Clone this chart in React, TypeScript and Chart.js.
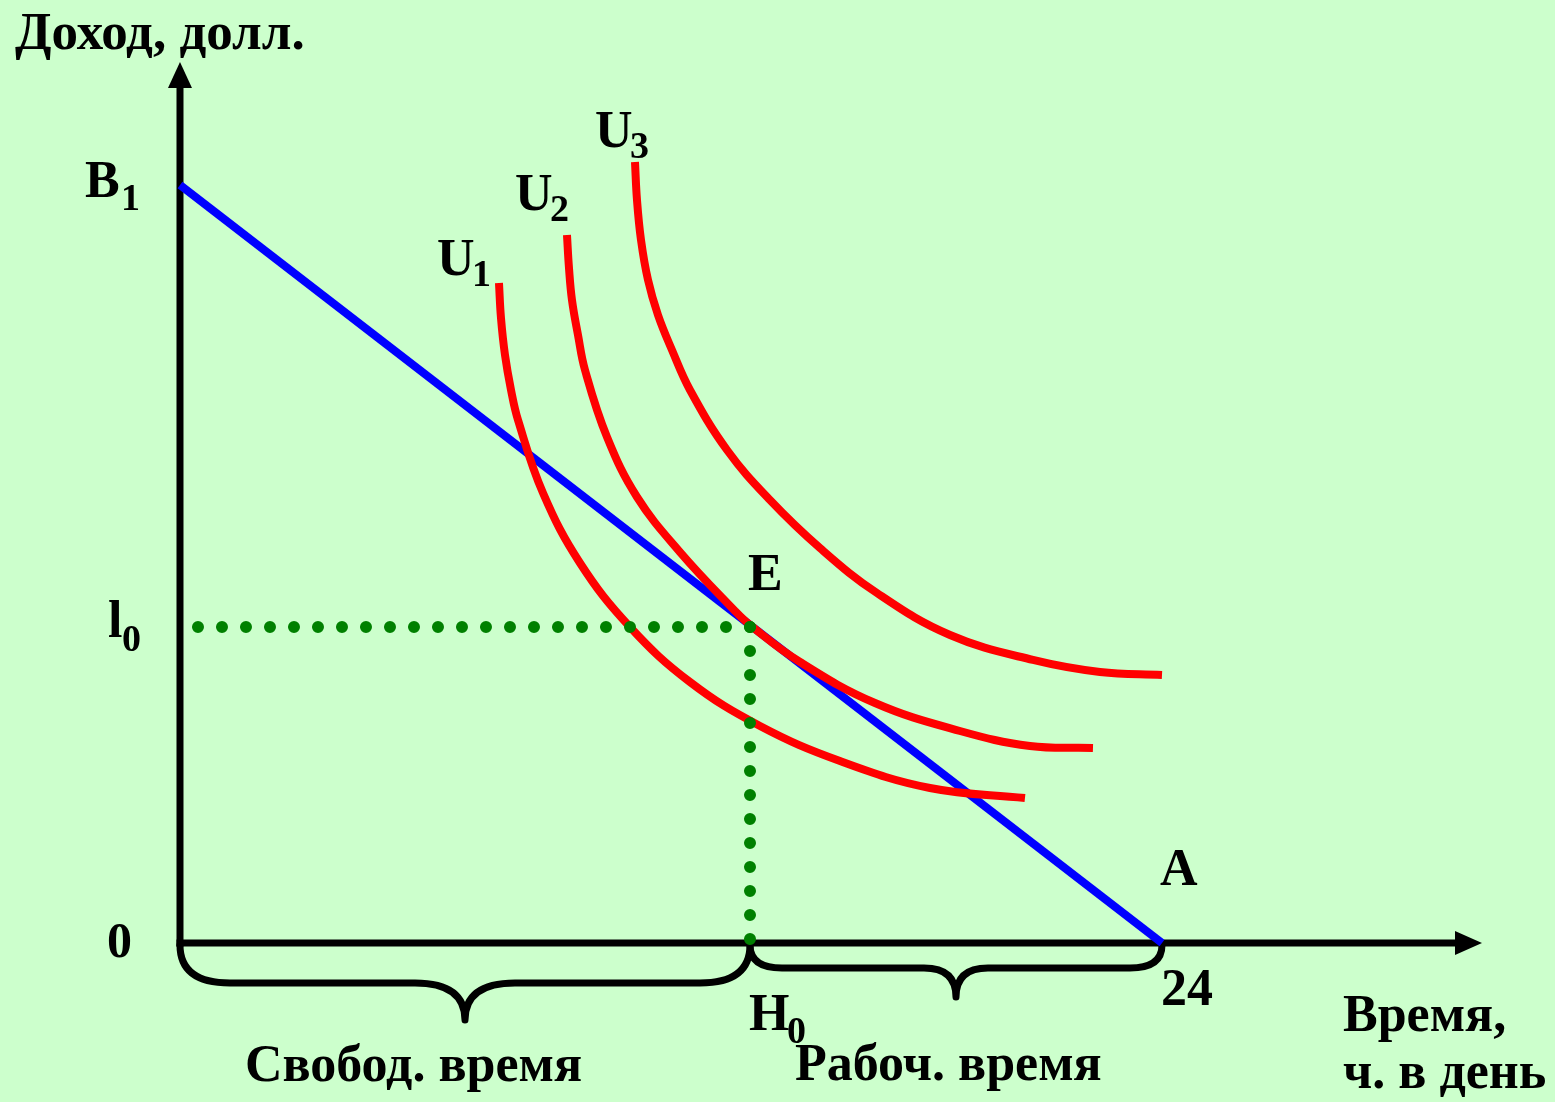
import React, { useEffect, useRef } from "react";
import { Chart, registerables } from "chart.js";

Chart.register(...registerables);

const W = 1555;
const H = 1102;

// ---- data (hours of leisure on x, income on y) ----
const budgetHours = [0, 24];
const budgetIncome = [100, 0];

const u1Hours = [7.796, 7.845, 7.943, 8.09, 8.261, 8.872, 9.776, 10.998, 12.464, 14.175, 16.13, 18.33, 20.651];
const u1Income = [87.07, 82.45, 77.57, 72.96, 69.0, 59.37, 50.13, 41.69, 34.43, 28.63, 24.01, 20.45, 19.13];

const u2Hours = [9.458, 9.507, 9.58, 9.727, 9.898, 10.436, 11.169, 12.22, 13.564, 13.931, 15.153, 16.986, 19.063, 20.774, 22.313];
const u2Income = [93.4, 89.05, 84.83, 80.21, 75.59, 66.75, 58.84, 51.58, 43.8, 41.95, 37.07, 31.66, 27.97, 25.99, 25.73];

const u3Hours = [11.12, 11.169, 11.267, 11.438, 11.682, 12.024, 12.464, 13.369, 14.419, 15.641, 17.034, 18.819, 20.847, 22.485, 24.0];
const u3Income = [103.03, 98.02, 92.74, 87.47, 82.85, 78.23, 72.96, 65.04, 58.44, 52.11, 46.17, 40.63, 37.34, 35.75, 35.36];

const H0 = 13.931; // equilibrium leisure hours
const L0 = 41.69; // equilibrium income
const DAY = 24;
const B1 = 100;
const guideStart = 0.44;

const curveNames = ["U", "U", "U"];
const curveSubs = ["1", "2", "3"];
const yTitle = "Доход, долл.";
const xTitle1 = "Время,";
const xTitle2 = "ч. в день";
const freeLabel = "Свобод. время";
const workLabel = "Рабоч. время";

// ---- view window ----
const X_MIN = -4.399;
const X_MAX = 33.605;
const Y_MIN = -20.976;
const Y_MAX = 124.406;

const pts = (xs: number[], ys: number[]) => xs.map((x, i) => ({ x, y: ys[i] }));

const BG = "#CCFFCC";
const FONT = '"Liberation Serif", "Times New Roman", serif';

function txt(ctx: CanvasRenderingContext2D, s: string, x: number, y: number, size: number) {
  ctx.font = `bold ${size}px ${FONT}`;
  ctx.fillText(s, x, y);
}

function brace(
  ctx: CanvasRenderingContext2D,
  x0: number,
  x1: number,
  y0: number,
  ym: number,
  yt: number,
  r: number
) {
  const xm = (x0 + x1) / 2;
  ctx.beginPath();
  ctx.moveTo(x0, y0);
  ctx.quadraticCurveTo(x0, ym, x0 + r, ym);
  ctx.lineTo(xm - r, ym);
  ctx.quadraticCurveTo(xm, ym, xm, yt);
  ctx.moveTo(xm, yt);
  ctx.quadraticCurveTo(xm, ym, xm + r, ym);
  ctx.lineTo(x1 - r, ym);
  ctx.quadraticCurveTo(x1, ym, x1, y0);
  ctx.stroke();
}

const overlay = {
  id: "overlay",
  beforeDraw(chart: any) {
    const ctx = chart.ctx;
    ctx.save();
    ctx.fillStyle = BG;
    ctx.fillRect(0, 0, chart.width, chart.height);
    ctx.restore();
  },
  beforeDatasetsDraw(chart: any) {
    const ctx: CanvasRenderingContext2D = chart.ctx;
    const xs = chart.scales.x;
    const ys = chart.scales.y;
    const x0 = xs.getPixelForValue(0);
    const y0 = ys.getPixelForValue(0);
    const xh = xs.getPixelForValue(H0);
    const xd = xs.getPixelForValue(DAY);
    ctx.save();
    ctx.strokeStyle = "#000";
    ctx.fillStyle = "#000";
    ctx.lineWidth = 7;
    ctx.lineCap = "butt";
    // y axis
    ctx.beginPath();
    ctx.moveTo(x0, y0 + 3.5);
    ctx.lineTo(x0, 86);
    ctx.stroke();
    ctx.beginPath();
    ctx.moveTo(x0, 62);
    ctx.lineTo(x0 - 12, 88);
    ctx.lineTo(x0 + 12, 88);
    ctx.closePath();
    ctx.fill();
    // x axis
    ctx.beginPath();
    ctx.moveTo(x0 - 3.5, y0);
    ctx.lineTo(1458, y0);
    ctx.stroke();
    ctx.beginPath();
    ctx.moveTo(1482, y0);
    ctx.lineTo(1455, y0 - 12);
    ctx.lineTo(1455, y0 + 12);
    ctx.closePath();
    ctx.fill();
    // braces
    ctx.lineWidth = 7;
    ctx.lineCap = "round";
    ctx.lineJoin = "round";
    brace(ctx, x0, xh, y0 + 2, y0 + 40, y0 + 77, 50);
    brace(ctx, xh, xd, y0 + 2, y0 + 25, y0 + 54, 32);
    ctx.restore();
  },
  afterDatasetsDraw(chart: any) {
    const ctx: CanvasRenderingContext2D = chart.ctx;
    const xs = chart.scales.x;
    const ys = chart.scales.y;
    const x0 = xs.getPixelForValue(0);
    const y0 = ys.getPixelForValue(0);
    const yb = ys.getPixelForValue(B1);
    const yl = ys.getPixelForValue(L0);
    const xh = xs.getPixelForValue(H0);
    const xd = xs.getPixelForValue(DAY);
    ctx.save();
    ctx.fillStyle = "#000";
    ctx.textAlign = "left";
    ctx.textBaseline = "alphabetic";
    txt(ctx, yTitle, 15, 49, 53);
    txt(ctx, "B", x0 - 95, yb + 12, 52);
    txt(ctx, "1", x0 - 59, yb + 25, 38);
    txt(ctx, "l", x0 - 72, yl + 10, 52);
    txt(ctx, "0", x0 - 58, yl + 24, 38);
    txt(ctx, "0", x0 - 73, y0 + 14, 50);
    // curve labels near top of each curve
    const tops = [
      { x: u1Hours[0], y: u1Income[0], dx: -62, dy: -8 },
      { x: u2Hours[0], y: u2Income[0], dx: -52, dy: -25 },
      { x: u3Hours[0], y: u3Income[0], dx: -40, dy: -15 },
    ];
    tops.forEach((t, i) => {
      const px = xs.getPixelForValue(t.x);
      const py = ys.getPixelForValue(t.y);
      txt(ctx, curveNames[i], px + t.dx, py + t.dy, 52);
      txt(ctx, curveSubs[i], px + t.dx + 35, py + t.dy + 11, 38);
    });
    txt(ctx, "E", xh - 2, yl - 37, 52);
    txt(ctx, "A", xd - 2, y0 - 58, 52);
    txt(ctx, "24", xd - 1, y0 + 62, 52);
    txt(ctx, "H", xh - 1, y0 + 87, 52);
    txt(ctx, "0", xh + 37, y0 + 100, 38);
    txt(ctx, freeLabel, 245, 1081, 52);
    txt(ctx, workLabel, 795, 1080, 52);
    txt(ctx, xTitle1, 1343, 1031, 52);
    txt(ctx, xTitle2, 1343, 1088, 52);
    ctx.restore();
  },
};

export default function App() {
  const ref = useRef<HTMLCanvasElement | null>(null);

  useEffect(() => {
    if (!ref.current) return;
    const dots = {
      borderColor: "#008000",
      borderWidth: 12,
      borderDash: [0, 24],
      borderCapStyle: "round" as const,
      pointRadius: 0,
      fill: false,
    };
    const red = {
      borderColor: "#FF0000",
      borderWidth: 8,
      pointRadius: 0,
      tension: 0.4,
      borderCapStyle: "butt" as const,
      fill: false,
    };
    const chart = new Chart(ref.current, {
      type: "line",
      data: {
        datasets: [
          { ...dots, label: "l0", data: [{ x: guideStart, y: L0 }, { x: H0, y: L0 }] },
          { ...dots, label: "H0", data: [{ x: H0, y: L0 }, { x: H0, y: 0 }] },
          { ...red, label: "U1", data: pts(u1Hours, u1Income) },
          { ...red, label: "U2", data: pts(u2Hours, u2Income) },
          { ...red, label: "U3", data: pts(u3Hours, u3Income) },
          {
            label: "budget",
            data: pts(budgetHours, budgetIncome),
            borderColor: "#0000FF",
            borderWidth: 8,
            pointRadius: 0,
            fill: false,
          },
        ],
      },
      options: {
        animation: false,
        responsive: false,
        maintainAspectRatio: false,
        layout: { padding: 0 },
        plugins: {
          legend: { display: false },
          tooltip: { enabled: false },
        },
        scales: {
          x: { type: "linear", min: X_MIN, max: X_MAX, display: false },
          y: { type: "linear", min: Y_MIN, max: Y_MAX, display: false },
        },
      },
      plugins: [overlay],
    });
    return () => chart.destroy();
  }, []);

  return (
    <div
      style={{
        position: "fixed",
        left: 0,
        top: 0,
        width: W,
        height: H,
        background: BG,
        overflow: "hidden",
      }}
    >
      <canvas ref={ref} width={W} height={H} style={{ display: "block", width: W, height: H }} />
    </div>
  );
}
